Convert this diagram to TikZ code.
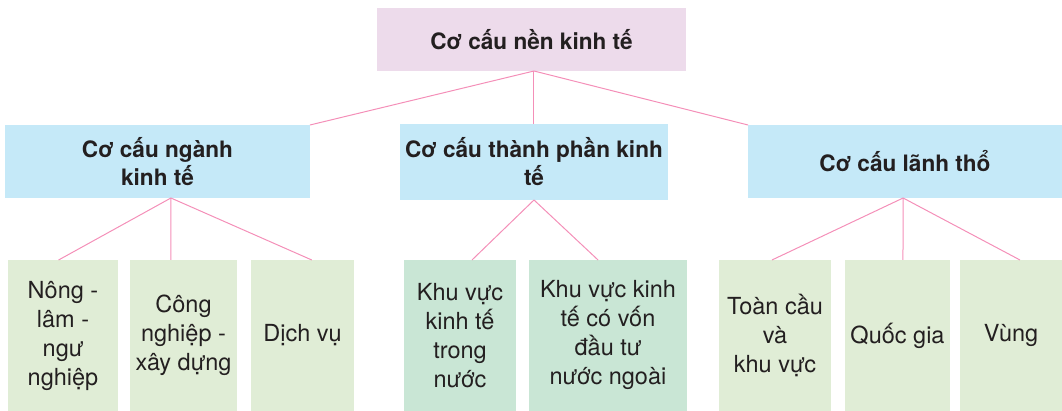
\documentclass[tikz,border=0pt]{standalone}
\usepackage{fontspec}
\setmainfont{TeX Gyre Heros}
\usetikzlibrary{calc}
\definecolor{rootfill}{HTML}{EDDBEB}
\definecolor{midfill}{HTML}{C5E9F8}
\definecolor{leaflt}{HTML}{E0EDD6}
\definecolor{leafdk}{HTML}{C9E6D5}
\definecolor{linkpink}{HTML}{F48FB8}
\definecolor{txt}{HTML}{231F20}
\begin{document}
\begin{tikzpicture}[x=1pt,y=1pt,
  box/.style={draw=none, inner sep=0pt, outer sep=0pt, align=center, text=txt, anchor=center},
  rootbox/.style={box, fill=rootfill, font=\bfseries\fontsize{22.6}{28}\selectfont},
  midbox/.style={box, fill=midfill, font=\bfseries\fontsize{22.6}{28}\selectfont},
  leafbox/.style={box, fill=leaflt, font=\fontsize{23.5}{29}\selectfont, minimum height=151pt},
  leafboxdk/.style={leafbox, fill=leafdk},
  link/.style={draw=linkpink, line width=1pt}
]
\useasboundingbox (0,0) rectangle (1062,411);
% root
\node[rootbox, minimum width=309pt, minimum height=63pt] (root) at (531.5,371.5) {Cơ cấu nền kinh tế};
% middle level
\node[midbox, minimum width=305pt, minimum height=73pt] (m1) at (157.5,249.5) {Cơ cấu ngành\\kinh tế};
\node[midbox, minimum width=268pt, minimum height=76pt] (m2) at (534,249) {Cơ cấu thành phần kinh\\tế};
\node[midbox, minimum width=314pt, minimum height=73pt] (m3) at (905,249.5) {Cơ cấu lãnh thổ};
% leaves
\node[leafbox, minimum width=110pt] (l1) at (63,75.5) {Nông -\\lâm -\\ngư\\nghiệp};
\node[leafbox, minimum width=107pt] (l2) at (183.5,75.5) {Công\\nghiệp -\\xây dựng};
\node[leafbox, minimum width=103pt] (l3) at (302.5,75.5) {Dịch vụ};
\node[leafboxdk, minimum width=112pt] (l4) at (460,75.5) {Khu vực\\kinh tế\\trong\\nước};
\node[leafboxdk, minimum width=158pt] (l5) at (608,75.5) {Khu vực kinh\\tế có vốn\\đầu tư\\nước ngoài};
\node[leafbox, minimum width=112pt] (l6) at (775,75.5) {Toàn cầu\\và\\khu vực};
\node[leafbox, minimum width=105pt] (l7) at (897.5,75.5) {Quốc gia};
\node[leafbox, minimum width=102pt] (l8) at (1011,75.5) {Vùng};
% hubs
\coordinate (hr) at ($(root.south west)!0.508!(root.south east)$);
\coordinate (h1) at ($(m1.south west)!0.544!(m1.south east)$);
\coordinate (h2) at ($(m2.south west)!0.5!(m2.south east)$);
\coordinate (h3) at ($(m3.south west)!0.494!(m3.south east)$);
% connectors
\draw[link] (hr) -- (m1.north east);
\draw[link] (hr) -- (hr |- m2.north);
\draw[link] (hr) -- (m3.north west);
\draw[link] (h1) -- ($(l1.north west)!0.46!(l1.north east)$);
\draw[link] (h1) -- ($(l2.north west)!0.383!(l2.north east)$);
\draw[link] (h1) -- ($(l3.north west)!0.59!(l3.north east)$);
\draw[link] (h2) -- ($(l4.north west)!0.607!(l4.north east)$);
\draw[link] (h2) -- ($(l5.north west)!0.437!(l5.north east)$);
\draw[link] (h3) -- ($(l6.north west)!0.473!(l6.north east)$);
\draw[link] (h3) -- ($(l7.north west)!0.552!(l7.north east)$);
\draw[link] (h3) -- ($(l8.north west)!0.588!(l8.north east)$);
\end{tikzpicture}
\end{document}
